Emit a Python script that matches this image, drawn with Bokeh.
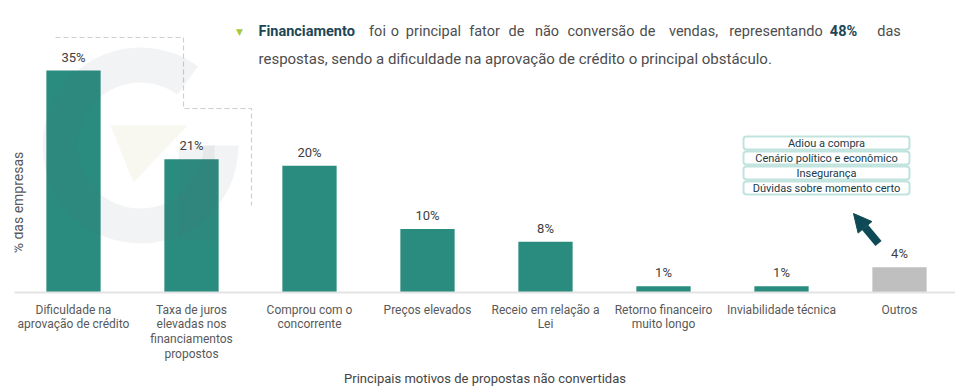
import math
from bokeh.plotting import figure
from bokeh.models import (ColumnDataSource, Range1d, FixedTicker, LabelSet, Label,
                          BoxAnnotation, Arrow, NormalHead)
from bokeh.core.properties import value
from bokeh.embed import file_html
from bokeh.resources import INLINE

# ---- data ----
categories = [
    "Dificuldade na\naprovação de crédito",
    "Taxa de juros\nelevadas nos\nfinanciamentos\npropostos",
    "Comprou com o\nconcorrente",
    "Preços elevados",
    "Receio em relação a\nLei",
    "Retorno financeiro\nmuito longo",
    "Inviabilidade técnica",
    "Outros",
]
values = [35, 21, 20, 10, 8, 1, 1, 4]
value_labels = ["35%", "21%", "20%", "10%", "8%", "1%", "1%", "4%"]
other_reasons = ["Adiou a compra", "Cenário político e econômico",
                 "Insegurança", "Dúvidas sobre momento certo"]
x_title = "Principais motivos de propostas não convertidas"
y_title = "% das empresas"

TEAL = "#2a8b7f"
GREY = "#bfbfbf"
FONT = "Roboto"

W, H = 955, 392
X0, X1 = -0.5, 7.4746
Y0, Y1 = 0, 46.06

p = figure(width=W, height=H, output_backend="svg", toolbar_location=None,
           x_range=Range1d(X0, X1), y_range=Range1d(Y0, Y1),
           min_border_left=14, min_border_right=0, min_border_top=0, min_border_bottom=100)
p.outline_line_color = None
p.grid.visible = False
p.yaxis.visible = False
p.background_fill_color = "white"


# pixel -> data helpers (for decorations only)
def dx(px):
    return (px - 73) / 118.0


def dy(py):
    return (292 - py) / 6.34


# ---- watermark (under) ----
p.patch(x=[dx(110), dx(187), dx(133)], y=[dy(125), dy(125), dy(182)],
        color="#f8f8f0", line_color=None)

# ---- dashed decoration ----
p.line(x=[dx(55), dx(183), dx(183), dx(251), dx(251)],
       y=[dy(37), dy(37), dy(108), dy(108), dy(205)],
       line_color="#cfcfcf", line_width=1.2, line_dash="5 3")

# ---- bars ----
xs = list(range(len(categories)))
colors = [TEAL] * (len(values) - 1) + [GREY]
src = ColumnDataSource(dict(x=xs, top=values, color=colors, lab=value_labels))
p.vbar(x="x", top="top", bottom=0, width=0.46, color="color", line_color=None, source=src)

# ---- watermark ring (faint overlay) ----
p.annular_wedge(x=[dx(140)], y=[dy(145)], inner_radius=63, outer_radius=98,
                inner_radius_units="screen", outer_radius_units="screen",
                start_angle=math.radians(54), end_angle=math.radians(360),
                color="#5d6b78", alpha=0.08, line_color=None)
p.quad(left=[dx(178)], right=[dx(214)], top=[dy(145)], bottom=[dy(240)],
       color="#5d6b78", alpha=0.08, line_color=None)

p.add_layout(LabelSet(x="x", y="top", text="lab", source=src, y_offset=6,
                      text_align="center", text_baseline="bottom",
                      text_font=value(FONT), text_font_size="13px", text_color="#404040"))

# ---- x axis ----
ax = p.xaxis[0]
ax.ticker = FixedTicker(ticks=xs)
ax.major_label_overrides = {i: c for i, c in enumerate(categories)}
ax.major_label_text_font = FONT
ax.major_label_text_font_size = "12px"
ax.major_label_text_color = "#595959"
ax.major_label_text_line_height = 1.05
ax.major_label_standoff = 4
ax.major_tick_line_color = None
ax.minor_tick_line_color = None
ax.axis_line_color = "#e3e3e3"
ax.axis_line_width = 2
ax.axis_label = x_title
ax.axis_label_text_font = FONT
ax.axis_label_text_font_size = "13px"
ax.axis_label_text_font_style = "normal"
ax.axis_label_text_color = "#444444"
ax.axis_label_standoff = 7

p.add_layout(Label(x=dx(18), y=dy(202), text=y_title, angle=math.pi / 2,
                   text_align="center", text_baseline="middle", text_font=FONT,
                   text_font_size="14px", text_color="#595959"))

# ---- headline text (justified first line, word by word) ----
p.add_layout(Label(x=dx(239), y=dy(31), text="▼", text_align="center",
                   text_baseline="middle", text_font="DejaVu Sans",
                   text_font_size="9px", text_color="#a9c83c"))
BOLD_C, NORM_C = "#1d4756", "#4d4d4d"
p.add_layout(Label(x=dx(258), y=dy(31), text="Financiamento", text_align="left",
                   text_baseline="middle", text_font=FONT, text_font_size="14.5px",
                   text_font_style="bold", text_color=BOLD_C))
words = [("foi", 377, False), ("o", 394.5, False), ("principal", 433, False),
         ("fator", 484, False), ("de", 516, False), ("não", 546.5, False),
         ("conversão", 600.5, False), ("de", 647, False), ("vendas,", 693, False),
         ("representando", 775.5, False), ("48%", 843, True), ("das", 888.5, False)]
for w, cx, bold in words:
    p.add_layout(Label(x=dx(cx), y=dy(31), text=w, text_align="center",
                       text_baseline="middle", text_font=FONT, text_font_size="14.5px",
                       text_font_style="bold" if bold else "normal",
                       text_color=BOLD_C if bold else NORM_C))
p.add_layout(Label(x=dx(258), y=dy(58),
                   text="respostas, sendo a dificuldade na aprovação de crédito o principal obstáculo.",
                   text_align="left", text_baseline="middle", text_font=FONT,
                   text_font_size="15px", text_color=NORM_C))

# ---- "Outros" breakdown boxes ----
box_tops = [136, 151, 166, 181]
for i, r in enumerate(other_reasons):
    t = box_tops[i]
    p.add_layout(BoxAnnotation(left=dx(743), right=dx(909), top=dy(t), bottom=dy(t + 13),
                               fill_color="white", fill_alpha=1.0,
                               line_color="#2fa392", line_width=2, border_radius=3))
    p.add_layout(Label(x=dx(826), y=dy(t + 6.5), text=r, text_align="center",
                       text_baseline="middle", text_font=FONT, text_font_size="11px",
                       text_color="#1b3a48"))

p.add_layout(Arrow(end=NormalHead(size=18, fill_color="#0e4a55", line_color="#0e4a55"),
                   x_start=dx(878), y_start=dy(243), x_end=dx(853), y_end=dy(213),
                   line_color="#0e4a55", line_width=8))

open("out.html", "w").write(file_html(p, INLINE))
